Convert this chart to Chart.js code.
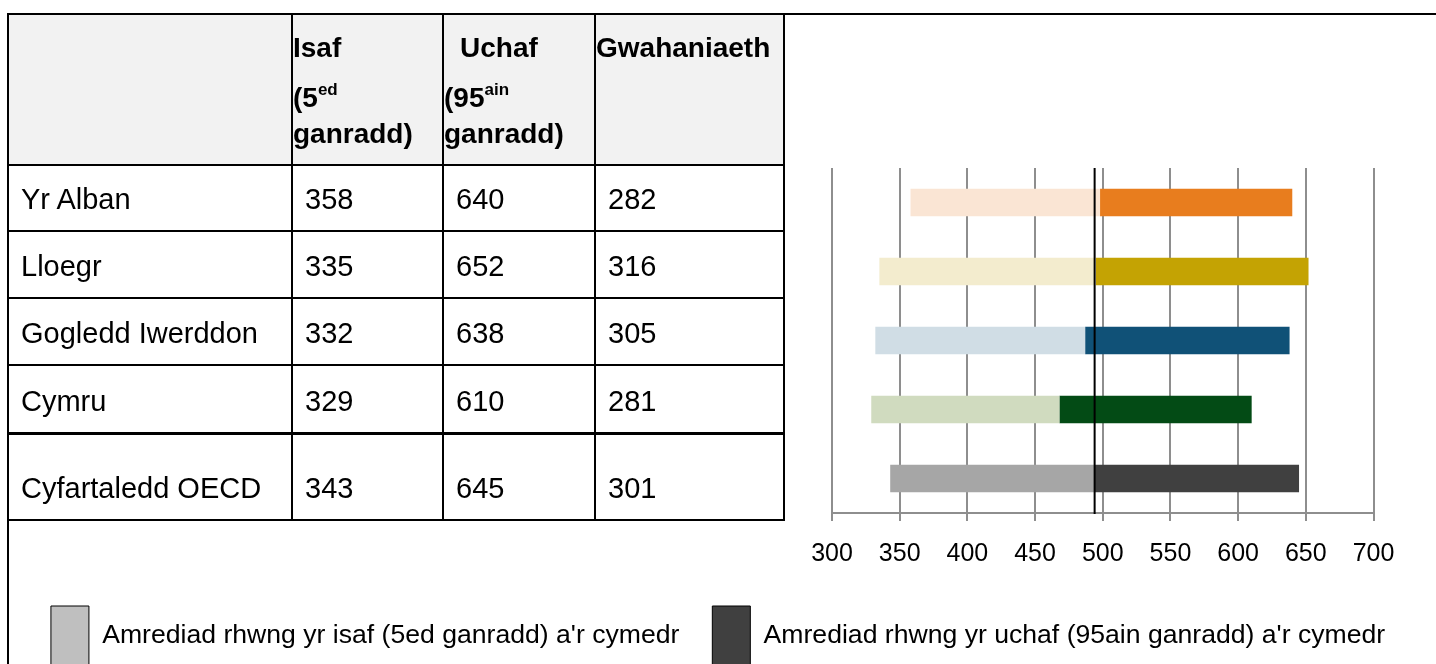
<!DOCTYPE html>
<html>
<head>
<meta charset="utf-8">
<script src="https://cdn.jsdelivr.net/npm/chart.js@4.4.1/dist/chart.umd.min.js"></script>
<style>
  html, body { margin: 0; padding: 0; width: 1436px; height: 664px; overflow: hidden; background: #fff;
    font-family: "Liberation Sans", Arial, sans-serif; color: #000; }
  #frame { position: absolute; left: 7px; top: 13px; width: 1500px; height: 800px;
    border-top: 2px solid #000; border-left: 2px solid #000; z-index: 2; pointer-events: none; }
  #tbl { position: absolute; left: 7px; top: 13px; z-index: 1; border-collapse: separate; border-spacing: 0;
    table-layout: fixed; width: 778px; border-top: 2px solid #000; border-left: 2px solid #000; font-size: 29px; }
  #tbl td, #tbl th { border-right: 2px solid #000; border-bottom: 2px solid #000; box-sizing: border-box;
    padding: 0 0 15px 12px; vertical-align: bottom; line-height: 32px; text-align: left;
    font-weight: normal; white-space: nowrap; overflow: visible; }
  #tbl th { background: #f2f2f2; font-weight: bold; font-size: 28px; vertical-align: top; padding: 15px 0 0 0; }
  #tbl tr.thick td { border-bottom-width: 3px; }
  .l1 { line-height: 36px; margin-bottom: 14px; }
  .l2, .l3 { line-height: 36px; }
  sup { font-size: 17px; line-height: 0; vertical-align: baseline; position: relative; top: -12px; }
  #wrap { position: absolute; left: 0; top: 0; width: 1436px; height: 676px; z-index: 0; }
</style>
</head>
<body>
<div id="frame"></div>
<table id="tbl">
  <colgroup>
    <col style="width:284px"><col style="width:151px"><col style="width:152px"><col style="width:189px">
  </colgroup>
  <thead>
    <tr style="height:151px">
      <th></th>
      <th><div class="l1">Isaf</div><div class="l2">(5<sup>ed</sup></div><div class="l3">ganradd)</div></th>
      <th><div class="l1" style="padding-left:16px">Uchaf</div><div class="l2">(95<sup>ain</sup></div><div class="l3">ganradd)</div></th>
      <th><div class="l1">Gwahaniaeth</div></th>
    </tr>
  </thead>
  <tbody></tbody>
</table>
<div id="wrap"><canvas id="rangeChart"></canvas></div>
<script>
const categories = ["Yr Alban", "Lloegr", "Gogledd Iwerddon", "Cymru", "Cyfartaledd OECD"];
const isaf = [358, 335, 332, 329, 343];
const uchaf = [640, 652, 638, 610, 645];
const gwahaniaeth = [282, 316, 305, 281, 301];
const cymedr = [498, 495, 487, 468, 494];
const oecdCymedr = 494;
const xTicks = [300, 350, 400, 450, 500, 550, 600, 650, 700];
const legendLabels = [
    "Amrediad rhwng yr isaf (5ed ganradd) a'r cymedr",
    "Amrediad rhwng yr uchaf (95ain ganradd) a'r cymedr"
];
const lightColours = ["#fae5d4", "#f3ecce", "#d0dde5", "#d0dbbf", "#a6a6a6"];
const darkColours = ["#e87d1e", "#c4a303", "#105177", "#034b15", "#404040"];
const legendColours = ["#bfbfbf", "#404040"];

const rowHeights = [66, 67, 67, 69, 86];

function fillTable() {
    const body = document.querySelector("#tbl tbody");
    categories.forEach((name, i) => {
        const row = document.createElement("tr");
        row.style.height = rowHeights[i] + "px";
        if (i === 3) row.classList.add("thick");
        [name, isaf[i], uchaf[i], gwahaniaeth[i]].forEach(v => {
            const cell = document.createElement("td");
            cell.textContent = v;
            row.appendChild(cell);
        });
        body.appendChild(row);
    });
}

fillTable();

Chart.defaults.font.family = '"Liberation Sans", Arial, sans-serif';
Chart.defaults.color = "#000";

// black line at the OECD average
const meanLine = {
    id: "meanLine",
    afterDatasetsDraw(chart) {
        const x = chart.scales.x.getPixelForValue(oecdCymedr);
        const area = chart.chartArea;
        const c = chart.ctx;
        c.save();
        c.strokeStyle = "#000";
        c.lineWidth = 2;
        c.beginPath();
        c.moveTo(x, area.top);
        c.lineTo(x, area.bottom + 1);
        c.stroke();
        c.restore();
    }
};

const ctx = document.getElementById("rangeChart").getContext("2d");

new Chart(ctx, {
    type: "bar",
    data: {
        labels: categories,
        datasets: [
            {
                label: legendLabels[0],
                data: isaf.map((v, i) => [v, cymedr[i]]),
                backgroundColor: lightColours,
                grouped: false,
                borderWidth: 0,
                barPercentage: 0.4,
                categoryPercentage: 1
            },
            {
                label: legendLabels[1],
                data: cymedr.map((v, i) => [v, uchaf[i]]),
                backgroundColor: darkColours,
                grouped: false,
                borderWidth: 0,
                barPercentage: 0.4,
                categoryPercentage: 1
            }
        ]
    },
    options: {
        indexAxis: "y",
        responsive: true,
        maintainAspectRatio: false,
        animation: false,
        layout: { padding: { top: 168 } },
        scales: {
            x: {
                min: 300,
                max: 700,
                afterBuildTicks: s => { s.ticks = xTicks.map(v => ({ value: v })); },
                afterFit: s => { s.height = 60; },
                grid: { color: "#8e8e8e", lineWidth: 2, tickLength: 8 },
                border: { color: "#8e8e8e", width: 2 },
                ticks: { font: { size: 25 }, color: "#000", padding: 18 }
            },
            y: {
                afterFit: s => { s.width = 832; },
                ticks: { display: false },
                grid: { display: false },
                border: { display: false }
            },
            yRight: {
                type: "category",
                position: "right",
                afterFit: s => { s.width = 62.5; },
                ticks: { display: false },
                grid: { display: false },
                border: { display: false }
            }
        },
        plugins: {
            tooltip: { enabled: false },
            legend: {
                position: "bottom",
                labels: {
                    boxWidth: 38,
                    boxHeight: 60,
                    padding: 33,
                    color: "#000",
                    font: { size: 26.6 },
                    generateLabels: () => legendLabels.map((text, i) => ({
                        text: text,
                        fillStyle: legendColours[i],
                        strokeStyle: "#000",
                        lineWidth: 1,
                        datasetIndex: i,
                        hidden: false
                    }))
                }
            }
        }
    },
    plugins: [meanLine]
});
</script>
</body>
</html>
